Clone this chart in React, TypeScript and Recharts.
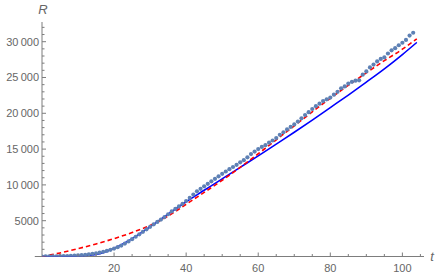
import React from 'react';
import {
  ComposedChart,
  Line,
  XAxis,
  YAxis,
  ReferenceLine,
} from 'recharts';

// observed points, one per day
const obsT = [
  0, 1, 2, 3, 4, 5, 6, 7, 8, 9, 10, 11, 12, 13, 14, 15, 16, 17, 18, 19, 20,
  21, 22, 23, 24, 25, 26, 27, 28, 29, 30, 31, 32, 33, 34, 35, 36, 37, 38, 39,
  40, 41, 42, 43, 44, 45, 46, 47, 48, 49, 50, 51, 52, 53, 54, 55, 56, 57, 58,
  59, 60, 61, 62, 63, 64, 65, 66, 67, 68, 69, 70, 71, 72, 73, 74, 75, 76, 77,
  78, 79, 80, 81, 82, 83, 84, 85, 86, 87, 88, 89, 90, 91, 92, 93, 94, 95, 96,
  97, 98, 99, 100, 101, 102, 103,
];
const obsR = [
  0, 5, 10, 20, 30, 40, 55, 70, 90, 120, 150, 190, 240, 300, 370, 450, 540,
  650, 780, 930, 1100, 1300, 1530, 1800, 2100, 2420, 2760, 3100, 3450, 3800,
  4150, 4500, 4830, 5150, 5500, 5900, 6300, 6650, 7000, 7350, 7750, 8200,
  8650, 9100, 9450, 9800, 10150, 10500, 10850, 11200, 11550, 11870, 12200,
  12500, 12800, 13150, 13450, 13850, 14300, 14650, 15000, 15300, 15550, 15900,
  16200, 16550, 17000, 17350, 17750, 18100, 18450, 18850, 19300, 19750, 20150,
  20600, 21000, 21350, 21700, 21950, 22200, 22600, 23000, 23500, 23750, 24150,
  24400, 24550, 24600, 25400, 25850, 26400, 26800, 27250, 27600, 27800, 28350,
  28800, 29100, 29500, 29850, 30250, 30850, 31250,
];

// fitted curves
const fitT = [0, 5, 10, 15, 20, 25, 30, 35, 40, 45, 50, 55, 60, 65, 70, 75, 80, 85, 90, 95, 100, 104];
const modelR = [0, 15, 70, 280, 1150, 2500, 4150, 5920, 7650, 9250, 10850, 12450, 14050, 15700, 17350, 19050, 20800, 22550, 24350, 26200, 28200, 29900];
const altR = [0, 500, 1100, 1750, 2500, 3350, 4350, 5650, 7300, 8950, 10650, 12450, 14350, 16300, 18250, 20200, 22100, 23900, 25650, 27350, 28950, 30400];

const xTicks = [5, 10, 15, 20, 25, 30, 35, 40, 45, 50, 55, 60, 65, 70, 75, 80, 85, 90, 95, 100, 105];
const yTicks = Array.from({ length: 32 }, (_, i) => (i + 1) * 1000);

const obsData = obsT.map((t, i) => ({ t, r: obsR[i] }));
const fitData = fitT.map((t, i) => ({ t, model: modelR[i], alt: altR[i] }));

const AXIS = '#7d7d7d';
const LABEL = '#666';
const FONT = '"Liberation Sans", Arial, sans-serif';

const fmt = (v: number) => {
  const s = String(v);
  return s.length > 4 ? s.slice(0, s.length - 3) + '\u2009' + s.slice(-3) : s;
};

const XTick = (props: any) => {
  const { x, y, payload } = props;
  const major = payload.value % 20 === 0;
  return (
    <g>
      <line x1={x} x2={x} y1={y} y2={y - (major ? 4 : 2.5)} stroke={AXIS} />
      {major && (
        <text x={x} y={y + 15} textAnchor="middle" fill={LABEL} fontSize={11} fontFamily={FONT}>
          {payload.value}
        </text>
      )}
    </g>
  );
};

const YTick = (props: any) => {
  const { x, y, payload } = props;
  const major = payload.value % 5000 === 0;
  return (
    <g>
      <line x1={x} x2={x + (major ? 4 : 2.5)} y1={y} y2={y} stroke={AXIS} />
      {major && (
        <text x={x - 3} y={y + 4} textAnchor="end" fill={LABEL} fontSize={11} fontFamily={FONT}>
          {fmt(payload.value)}
        </text>
      )}
    </g>
  );
};

const Dot = (props: any) => (
  <circle key={props.index} cx={props.cx} cy={props.cy} r={2.1} fill="#5E81B5" stroke="none" />
);

export default function App() {
  return (
    <div style={{ position: 'absolute', left: 0, top: 0, width: 436, height: 276 }}>
      <ComposedChart width={436} height={276} margin={{ top: 22, right: 12, left: 0, bottom: 0 }}>
        <XAxis
          type="number"
          dataKey="t"
          domain={[0, 106]}
          allowDataOverflow
          ticks={xTicks}
          interval={0}
          axisLine={false}
          tickLine={false}
          tickSize={0}
          tickMargin={0}
          height={19.5}
          tick={<XTick />}
        />
        <YAxis
          type="number"
          domain={[0, 32750]}
          allowDataOverflow
          ticks={yTicks}
          interval={0}
          width={42}
          axisLine={{ stroke: AXIS }}
          tickLine={false}
          tickSize={0}
          tickMargin={0}
          tick={<YTick />}
        />
        <ReferenceLine
          segment={[{ x: -2, y: 0 }, { x: 106, y: 0 }]}
          ifOverflow="visible"
          stroke={AXIS}
        />
        <Line
          data={obsData}
          dataKey="r"
          stroke="none"
          dot={<Dot />}
          activeDot={false}
          isAnimationActive={false}
        />
        <Line
          data={fitData}
          dataKey="model"
          type="monotone"
          stroke="#0000ff"
          strokeWidth={1.6}
          dot={false}
          isAnimationActive={false}
        />
        <Line
          data={fitData}
          dataKey="alt"
          type="monotone"
          stroke="#ff0000"
          strokeWidth={1.6}
          strokeDasharray="4.5 3"
          dot={false}
          isAnimationActive={false}
        />
      </ComposedChart>
      <svg width={436} height={276} style={{ position: 'absolute', left: 0, top: 0, pointerEvents: 'none' }}>
        <text x={43} y={14} textAnchor="middle" fill={LABEL} fontSize={13} fontStyle="italic" fontFamily={FONT}>
          R
        </text>
        <text x={432} y={261} textAnchor="middle" fill={LABEL} fontSize={13} fontStyle="italic" fontFamily={FONT}>
          t
        </text>
      </svg>
    </div>
  );
}
